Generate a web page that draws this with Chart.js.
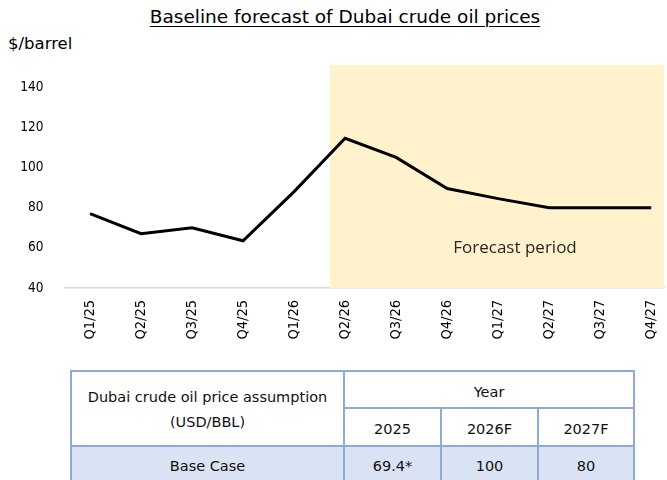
<!DOCTYPE html>
<html>
<head>
<meta charset="utf-8">
<script src="https://cdn.jsdelivr.net/npm/chart.js@4.4.0/dist/chart.umd.min.js"></script>
<style>
  html,body{margin:0;padding:0;background:#fff;width:667px;height:480px;overflow:hidden;}
  body{position:relative;font-family:"DejaVu Sans",sans-serif;color:#000;}
  #title{position:absolute;left:0;width:690px;top:6px;text-align:center;font-size:18.5px;text-decoration:underline;text-underline-offset:3px;text-decoration-thickness:1px;}
  #unit{position:absolute;left:8px;top:34px;font-size:16.5px;}
  #wrap{position:absolute;left:0;top:0;width:667px;height:360px;}
  table{position:absolute;left:70px;top:370px;border-collapse:collapse;font-size:14.5px;table-layout:fixed;}
  td{border:2px solid #8eaadb;text-align:center;padding:0;color:#111;}
</style>
</head>
<body>
<div id="title">Baseline forecast of Dubai crude oil prices</div>
<div id="unit">$/barrel</div>
<div id="wrap"><canvas id="c" width="667" height="360"></canvas></div>
<table>
  <colgroup><col style="width:273px"><col style="width:97px"><col style="width:97px"><col style="width:96px"></colgroup>
  <tr style="height:37px"><td rowspan="2" style="line-height:25px;padding-top:2px">Dubai crude oil price assumption<br>(USD/BBL)</td><td colspan="3" style="padding-top:4px">Year</td></tr>
  <tr style="height:38px"><td style="padding-top:4px">2025</td><td style="padding-top:4px">2026F</td><td style="padding-top:4px">2027F</td></tr>
  <tr style="height:40px;background:#dae3f3"><td>Base Case</td><td>69.4*</td><td>100</td><td>80</td></tr>
</table>
<script>
const categories = ["Q1/25","Q2/25","Q3/25","Q4/25","Q1/26","Q2/26","Q3/26","Q4/26","Q1/27","Q2/27","Q3/27","Q4/27"];
const prices = [77, 67, 70, 63.5, 88, 114.5, 105, 89.5, 84.5, 80, 80, 80];
const yTicks = [40, 60, 80, 100, 120, 140];
const forecastStart = 4.7;
const forecastLabel = "Forecast period";

const shadePlugin = {
  id: 'shade',
  beforeDatasetsDraw(chart) {
    const {ctx, chartArea, scales: {x, y}} = chart;
    const x0 = x.getPixelForValue(forecastStart);
    ctx.save();
    ctx.fillStyle = '#fff2cc';
    ctx.fillRect(x0, chartArea.top, chartArea.right - x0, y.getPixelForValue(40) - chartArea.top);
    ctx.fillStyle = '#262626';
    ctx.font = '17px "Open Sans", sans-serif';
    ctx.textAlign = 'center';
    ctx.textBaseline = 'middle';
    ctx.fillText(forecastLabel, x.getPixelForValue(8.33), y.getPixelForValue(60));
    ctx.restore();
  }
};

new Chart(document.getElementById('c'), {
  type: 'line',
  data: {
    datasets: [{
      data: prices.map((v, i) => ({x: i, y: v})),
      borderColor: '#000',
      borderWidth: 3,
      pointRadius: 0,
      tension: 0,
      fill: false
    }]
  },
  options: {
    responsive: false,
    animation: false,
    layout: {padding: {top: 65, right: 3, left: 0, bottom: 0}},
    plugins: {legend: {display: false}, tooltip: {enabled: false}},
    scales: {
      x: {
        type: 'linear',
        min: -0.5,
        max: 11.25,
        afterBuildTicks: s => { s.ticks = categories.map((c, i) => ({value: i})); },
        afterFit: s => { s.height = 72; s.paddingLeft = 0; s.paddingRight = 0; },
        grid: {display: false, drawTicks: false},
        border: {display: true, color: '#d9d9d9', width: 1.5},
        ticks: {
          callback: v => categories[v],
          minRotation: 90, maxRotation: 90,
          padding: 12,
          color: '#000',
          font: {family: '"DejaVu Sans Condensed","DejaVu Sans",sans-serif', size: 14.5}
        }
      },
      y: {
        min: 40,
        max: 151,
        afterBuildTicks: s => { s.ticks = yTicks.map(v => ({value: v})); },
        afterFit: s => { s.width = 64.5; },
        grid: {display: false, drawTicks: false},
        border: {display: false},
        ticks: {
          padding: 21,
          color: '#000',
          font: {family: '"DejaVu Sans Condensed","DejaVu Sans",sans-serif', size: 13.5}
        }
      }
    }
  },
  plugins: [shadePlugin]
});
</script>
</body>
</html>
